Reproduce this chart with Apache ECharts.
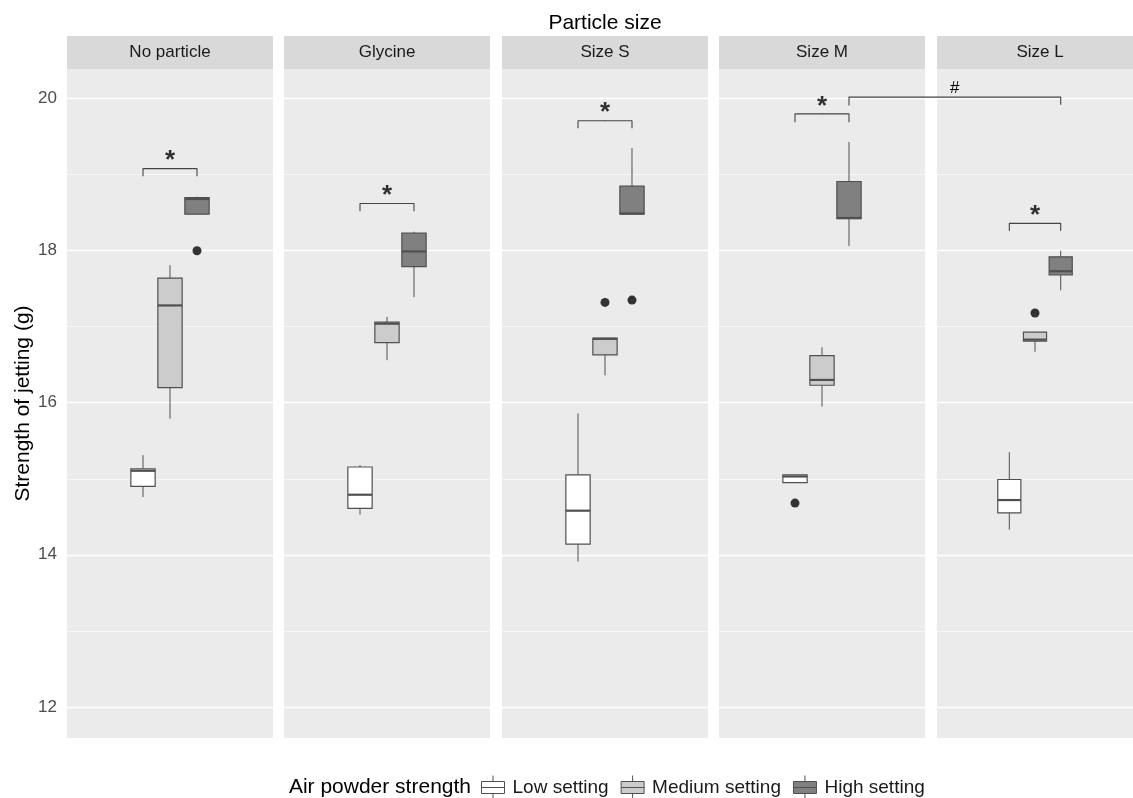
<!DOCTYPE html>
<html>
<head>
<meta charset="utf-8">
<script src="https://cdn.jsdelivr.net/npm/echarts@6/dist/echarts.min.js"></script>
<style>
  html, body { margin: 0; padding: 0; background: #fff; }
  #chart { width: 1133px; height: 798px; }
</style>
</head>
<body>
<div id="chart"></div>
<script>
// facet panels and fill groups
const panels = ['No particle', 'Glycine', 'Size S', 'Size M', 'Size L'];
const settings = ['Low setting', 'Medium setting', 'High setting'];
const settingX = [-1, 0, 1];

// box stats per panel: [min, q1, median, q3, max]
const lowStats = [
  [14.76, 14.90, 15.105, 15.13, 15.31],
  [14.53, 14.61, 14.79, 15.155, 15.18],
  [13.91, 14.14, 14.58, 15.05, 15.86],
  [14.95, 14.95, 15.03, 15.05, 15.05],
  [14.33, 14.55, 14.72, 14.99, 15.35]
];
const mediumStats = [
  [15.79, 16.20, 17.28, 17.64, 17.81],
  [16.56, 16.79, 17.04, 17.06, 17.13],
  [16.36, 16.63, 16.84, 16.85, 16.85],
  [15.95, 16.23, 16.30, 16.62, 16.73],
  [16.67, 16.81, 16.83, 16.93, 16.93]
];
const highStats = [
  [18.48, 18.48, 18.68, 18.70, 18.71],
  [17.39, 17.79, 17.99, 18.23, 18.25],
  [18.48, 18.48, 18.49, 18.85, 19.35],
  [18.06, 18.42, 18.43, 18.91, 19.43],
  [17.48, 17.68, 17.73, 17.92, 18.00]
];
// outliers per panel: [setting index, value]
const outliers = [
  [[2, 18.00]],
  [],
  [[1, 17.32], [2, 17.35]],
  [[0, 14.68]],
  [[1, 17.18]]
];
// significance brackets (Low vs High) per panel
const bracketTop = [19.08, 18.62, 19.71, 19.80, 18.36];
const bracketTick = [18.98, 18.52, 19.61, 19.69, 18.26];
// Size M High vs Size L High
const hashTop = 20.02;
const hashTick = [19.91, 19.92];

const majorTicks = [12, 14, 16, 18, 20];
const minorTicks = [13, 15, 17, 19];

const allStats = [lowStats, mediumStats, highStats];
const fills = ['#FFFFFF', '#CCCCCC', '#808080'];
const strokeCol = '#505050';
const font = 'Liberation Sans, Arial, sans-serif';

const panelLeft = [67, 284, 502, 719, 937];
const panelW = 206;
const panelTop = 69;
const panelH = 669;

const chart = echarts.init(document.getElementById('chart'));

const grids = [], xAxes = [], yAxes = [], series = [], graphics = [];

panels.forEach((p, i) => {
  grids.push({
    left: panelLeft[i], top: panelTop, width: panelW, height: panelH,
    show: true, backgroundColor: '#EBEBEB', borderWidth: 0
  });
  xAxes.push({ type: 'value', gridIndex: i, min: -3.815, max: 3.815, show: false });
  yAxes.push({
    type: 'value', gridIndex: i, min: 11.59, max: 20.39,
    axisLine: { show: false },
    splitLine: { show: false },
    axisTick: { show: i === 0, length: 5, lineStyle: { color: '#333' }, customValues: majorTicks },
    axisLabel: { show: i === 0, customValues: majorTicks, fontSize: 17, color: '#4D4D4D', margin: 10, fontFamily: font },
    name: i === 0 ? 'Strength of jetting (g)' : '',
    nameLocation: 'middle', nameGap: 33,
    nameTextStyle: { fontSize: 21, color: '#000', fontFamily: font }
  });

  // bracket + gridlines
  const gridLines = majorTicks.map(v => ({ yAxis: v, lineStyle: { width: 1.3 } }))
    .concat(minorTicks.map(v => ({ yAxis: v, lineStyle: { width: 0.6 } })));
  series.push({
    type: 'line', xAxisIndex: i, yAxisIndex: i, z: 1,
    data: [[-1, bracketTick[i]], [-1, bracketTop[i]], [1, bracketTop[i]], [1, bracketTick[i]]],
    showSymbol: false, silent: true,
    lineStyle: { color: '#444', width: 1.1 },
    markLine: {
      silent: true, z: 1, symbol: ['none', 'none'], label: { show: false },
      lineStyle: { color: '#FFFFFF', type: 'solid' },
      data: gridLines
    }
  });
  series.push({
    type: 'scatter', xAxisIndex: i, yAxisIndex: i, z: 3, silent: true,
    symbolSize: 1, itemStyle: { color: '#444' },
    data: [[0, bracketTop[i]]],
    label: { show: true, formatter: '*', position: 'top', distance: -6, fontSize: 26, fontWeight: 'bold', color: '#000', fontFamily: font }
  });

  settings.forEach((s, k) => {
    series.push({
      type: 'custom', name: s, xAxisIndex: i, yAxisIndex: i, z: 2,
      itemStyle: { color: fills[k], borderColor: strokeCol },
      encode: { x: 0, y: [1, 2, 3, 4, 5] },
      data: [[settingX[k]].concat(allStats[k][i])],
      renderItem: (params, api) => {
        const x = api.value(0);
        const pMin = api.coord([x, api.value(1)]);
        const pQ1 = api.coord([x, api.value(2)]);
        const pMed = api.coord([x, api.value(3)]);
        const pQ3 = api.coord([x, api.value(4)]);
        const pMax = api.coord([x, api.value(5)]);
        const w = api.size([0.9, 0])[0];
        const cx = pQ1[0];
        const ln = { stroke: strokeCol, lineWidth: 1 };
        return {
          type: 'group',
          children: [
            { type: 'line', shape: { x1: cx, y1: pMax[1], x2: cx, y2: pQ3[1] }, style: ln },
            { type: 'line', shape: { x1: cx, y1: pQ1[1], x2: cx, y2: pMin[1] }, style: ln },
            { type: 'rect', shape: { x: cx - w / 2, y: pQ3[1], width: w, height: pQ1[1] - pQ3[1] },
              style: { fill: fills[k], stroke: strokeCol, lineWidth: 1.2 } },
            { type: 'line', shape: { x1: cx - w / 2, y1: pMed[1], x2: cx + w / 2, y2: pMed[1] },
              style: { stroke: strokeCol, lineWidth: 2.2 } }
          ]
        };
      }
    });
  });

  series.push({
    type: 'scatter', xAxisIndex: i, yAxisIndex: i, z: 4, silent: true,
    symbolSize: 9, itemStyle: { color: '#333333', opacity: 1 },
    data: outliers[i].map(o => [settingX[o[0]], o[1]])
  });

  // strip header
  graphics.push({
    type: 'rect', id: 'strip' + i, silent: true,
    shape: { x: panelLeft[i], y: 36, width: panelW, height: 33 },
    style: { fill: '#D9D9D9' }
  });
  graphics.push({
    type: 'text', id: 'stripTxt' + i, silent: true,
    x: panelLeft[i] + panelW / 2, y: 52.5,
    style: { text: p, fill: '#1A1A1A', font: '17px ' + font, textAlign: 'center', textVerticalAlign: 'middle' }
  });
});

graphics.push({
  type: 'text', id: 'title', silent: true, x: 605, y: 23,
  style: { text: 'Particle size', fill: '#000', font: '21px ' + font, textAlign: 'center', textVerticalAlign: 'middle' }
});
graphics.push({
  type: 'text', id: 'legTitle', silent: true, x: 471, y: 787,
  style: { text: 'Air powder strength', fill: '#000', font: '21px ' + font, textAlign: 'right', textVerticalAlign: 'middle' }
});

const iconPath = 'path://M0,6H23V18H0Z M0,12H23 M11.5,0V6 M11.5,18V24';

chart.setOption({
  animation: false,
  textStyle: { fontFamily: font },
  grid: grids,
  xAxis: xAxes,
  yAxis: yAxes,
  legend: {
    left: 481, top: 775, padding: 0, itemWidth: 23, itemHeight: 24, itemGap: 12,
    textStyle: { fontSize: 19, color: '#1A1A1A', fontFamily: font, padding: [0, 0, 0, 3] },
    selectedMode: false,
    data: settings.map((s, k) => ({
      name: s, icon: iconPath,
      itemStyle: { color: fills[k], borderColor: strokeCol, borderWidth: 1 }
    }))
  },
  series: series,
  graphic: { elements: graphics }
});

// cross-panel bracket (Size M High vs Size L High)
const a0 = chart.convertToPixel({ gridIndex: 3 }, [1, hashTick[0]]);
const a1 = chart.convertToPixel({ gridIndex: 3 }, [1, hashTop]);
const b1 = chart.convertToPixel({ gridIndex: 4 }, [1, hashTop]);
const b0 = chart.convertToPixel({ gridIndex: 4 }, [1, hashTick[1]]);
chart.setOption({
  graphic: {
    elements: [
      { type: 'polyline', id: 'hashLine', silent: true, z: 10,
        shape: { points: [a0, a1, b1, b0] },
        style: { stroke: '#444', lineWidth: 1.1, fill: null } },
      { type: 'text', id: 'hashTxt', silent: true, z: 10,
        x: (a1[0] + b1[0]) / 2, y: a1[1] - 9,
        style: { text: '#', fill: '#000', font: '17px ' + font, textAlign: 'center', textVerticalAlign: 'middle' } }
    ]
  }
});
</script>
</body>
</html>
